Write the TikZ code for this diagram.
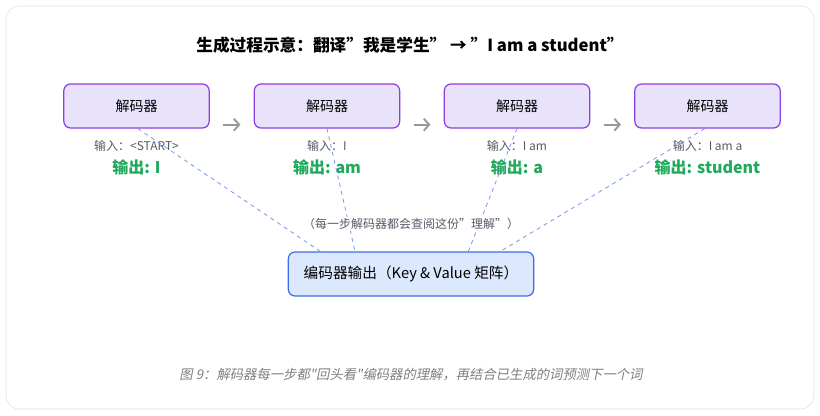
\documentclass[tikz,border=0pt]{standalone}
\usepackage{fontspec}
\setmainfont{Noto Sans CJK SC}[Ligatures=ResetAll]
\newfontfamily\capfont{Noto Sans CJK SC}[Ligatures=ResetAll, FakeSlant=0.2]
\usetikzlibrary{arrows.meta}
\definecolor{decfill}{HTML}{E9E2FB}
\definecolor{decline}{HTML}{8A3FE0}
\definecolor{encfill}{HTML}{DCE8FD}
\definecolor{encline}{HTML}{3B6EE6}
\definecolor{outgreen}{HTML}{1FAA5C}
\definecolor{txtgray}{HTML}{555B66}
\tikzset{
  dec/.style={draw=decline, fill=decfill, rounded corners=5pt, line width=0.9pt,
    minimum width=109pt, minimum height=33pt, font=\fontsize{10.5}{12}\selectfont},
  enc/.style={draw=encline, fill=encfill, rounded corners=5pt, line width=0.9pt,
    minimum width=184pt, minimum height=33pt, font=\fontsize{11}{13}\selectfont},
  inlab/.style={text=txtgray, font=\fontsize{9}{10}\selectfont},
  outlab/.style={text=outgreen, font=\bfseries\fontsize{12}{13}\selectfont},
  nextstep/.style={-{Straight Barb[length=4pt,width=9pt]}, draw=gray!80, line width=1.4pt},
  look/.style={dashed, draw=encline!70, line width=0.6pt},
}
\begin{document}
\begin{tikzpicture}[x=0.75pt, y=-0.75pt]
\useasboundingbox (0,0) rectangle (820,415);
\draw[gray!25, fill=white, rounded corners=10pt] (6,6) rectangle (814,409);

\node[font=\bfseries\fontsize{12.5}{14}\selectfont] (title) at (410,45) {生成过程示意：翻译"我是学生" → "I am a student"};

% decoders
\node[dec] (d1) at (136.5,106) {解码器};
\node[dec] (d2) at (327,106) {解码器};
\node[dec] (d3) at (517,106) {解码器};
\node[dec] (d4) at (707.5,106) {解码器};

\foreach \a/\b in {d1/d2, d2/d3, d3/d4}
  \draw[nextstep] ([xshift=10pt,yshift=-14pt]\a.east) -- ([xshift=-10pt,yshift=-14pt]\b.west);

\node[inlab] (i1) at (136.5,146) {输入：<START>};
\node[inlab] (i2) at (327,146) {输入：I};
\node[inlab] (i3) at (517,146) {输入：I am};
\node[inlab] (i4) at (707.5,146) {输入：I am a};
\node[outlab] (o1) at (136.5,167) {输出: I};
\node[outlab] (o2) at (327,167) {输出: am};
\node[outlab] (o3) at (517,167) {输出: a};
\node[outlab] (o4) at (707.5,167) {输出: student};

% encoder
\node[enc] (enc) at (411,274) {编码器输出（Key \& Value 矩阵）};
\draw[look] ([xshift=1pt]d1.south) -- ([xshift=-68pt]enc.north);
\draw[look] (d2.south) -- ([xshift=-42pt]enc.north);
\draw[look] (d3.south) -- ([xshift=43pt]enc.north);
\draw[look] ([xshift=-2pt]d4.south) -- ([xshift=67pt]enc.north);

\node[inlab, fill=white, inner sep=1pt] (note) at (411,224) {（每一步解码器都会查阅这份"理解"）};

\node[text=gray, font=\capfont\fontsize{10}{11}\selectfont] (cap) at (411,375) {图 9：解码器每一步都"回头看"编码器的理解，再结合已生成的词预测下一个词};
\end{tikzpicture}
\end{document}
